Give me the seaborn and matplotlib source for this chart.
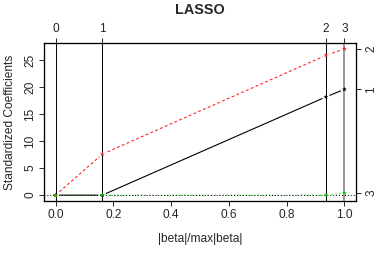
import matplotlib
matplotlib.use('Agg')
import matplotlib.pyplot as plt
import pandas as pd
import seaborn as sns

# LASSO path: breakpoints and standardized coefficients
steps = [0, 1, 2, 3]
s_frac = [0.0, 0.162, 0.936, 1.0]
coef_1 = [0.0, 0.0, 18.2, 19.6]
coef_2 = [0.0, 7.6, 25.9, 27.1]
coef_3 = [0.0, 0.0, 0.0, 0.4]
var_names = ['1', '2', '3']
x_ticks = [0.0, 0.2, 0.4, 0.6, 0.8, 1.0]
y_ticks = [0, 5, 10, 15, 20, 25]

sns.set_style('ticks')
plt.rcParams['font.family'] = ['Liberation Sans', 'DejaVu Sans']

# Long-form table for seaborn
df = pd.DataFrame({
    's': s_frac * 3,
    'coef': coef_1 + coef_2 + coef_3,
    'var': [v for v in var_names for _ in s_frac],
})

colors = {'1': '#000000', '2': '#FF2020', '3': '#00CD00'}
dashes = {'1': '', '2': (2.5, 2.2), '3': (1, 2.5)}
fs = 8.6

fig = plt.figure(figsize=(3.79, 2.56), dpi=100)
ax = fig.add_axes([44 / 379, 1 - 201 / 256, 312 / 379, 158 / 256])

sns.lineplot(data=df, x='s', y='coef', hue='var', style='var', palette=colors,
             dashes=dashes, sort=False, legend=False, linewidth=0.8, ax=ax)
ax.margins(x=0.04, y=0.04)

# gaps around points, like R type="b"
sns.scatterplot(data=df, x='s', y='coef', color='white', s=30, marker='o',
                edgecolor='none', legend=False, ax=ax, zorder=2.5)
for i, x in enumerate(s_frac):
    last = i == len(s_frac) - 1
    ax.axvline(x, color='#999999' if last else 'black', lw=1.4 if last else 0.7, zorder=3)
ax.axhline(0, color='black', lw=0.7, ls=(0, (1, 2)), zorder=3)
sns.scatterplot(data=df, x='s', y='coef', hue='var', palette=colors, marker='*',
                s=14, edgecolor='none', legend=False, ax=ax, zorder=4)

ax.set_xticks(x_ticks)
ax.set_xticklabels([f'{v:.1f}' for v in x_ticks])
ax.set_yticks(y_ticks)
ax.set_yticklabels([str(v) for v in y_ticks], rotation=90, va='center')
ax.set_xlabel('|beta|/max|beta|', fontsize=fs, labelpad=9)
ax.set_ylabel('Standardized Coefficients', fontsize=fs, labelpad=6)
ax.set_title('LASSO', fontsize=10.4, fontweight='bold', pad=21)
ax.tick_params(direction='out', length=3.6, width=0.7, labelsize=fs, pad=2)

xlim = ax.get_xlim()
ylim = ax.get_ylim()

# top axis: step numbers
ax_top = ax.twiny()
ax_top.set_xlim(xlim)
ax_top.set_xticks(s_frac)
ax_top.set_xticklabels([str(v) for v in steps])
ax_top.tick_params(direction='out', length=3.6, width=0.7, labelsize=fs, pad=2)

# right axis: variable numbers at final coefficients
final = [coef_1[-1], coef_2[-1], coef_3[-1]]
ax_right = ax.twinx()
ax_right.set_ylim(ylim)
ax_right.set_yticks(final)
ax_right.set_yticklabels(var_names, rotation=90, va='center')
ax_right.tick_params(direction='out', length=3.6, width=0.7, labelsize=fs, pad=3)

for a in (ax, ax_top, ax_right):
    for sp in a.spines.values():
        sp.set_visible(True)
        sp.set_linewidth(0.8)
        sp.set_color('black')

fig.savefig('out.png', dpi=100)
